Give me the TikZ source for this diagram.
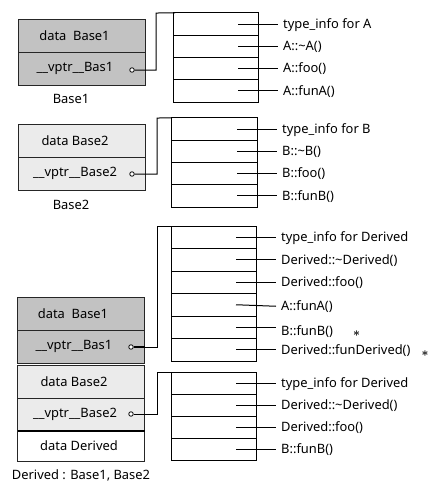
\documentclass[tikz,border=0pt]{standalone}
\usepackage{fontspec}
\setmainfont{Noto Sans}
\usetikzlibrary{positioning}
\begin{document}
\begin{tikzpicture}[x=1pt,y=-1pt,
  every node/.style={font=\fontsize{12.9}{15}\selectfont},
  objcell/.style={draw=black!85, line width=1pt, minimum width=127pt, inner sep=0pt, outer sep=0pt},
  darkcell/.style={objcell, fill=black!24},
  lightcell/.style={objcell, fill=black!8},
  whitecell/.style={objcell, fill=white},
  vrow/.style={draw=black, line width=1pt, inner sep=0pt, outer sep=0pt},
  lab/.style={inner xsep=5pt, inner ysep=0pt, text height=10.5pt, text depth=2pt, anchor=west},
  ptrend/.style={circle, draw=black, line width=0.8pt, fill=white, inner sep=0pt, minimum size=4.5pt},
  conn/.style={draw=black, line width=1pt},
  capt/.style={inner sep=0pt},
  star/.style={inner sep=0pt, anchor=base, font=\fontsize{13}{14}\selectfont\boldmath}
]
\path[use as bounding box, fill=white] (0,0) rectangle (438,488);

% ---------- Base1 object ----------
\node[darkcell, minimum height=33pt] (a1) at (81.5,35.5) {data\ \ Base1\hspace*{14pt}};
\node[darkcell, minimum height=33pt] (a2) at (81.5,68.5) {\_\_vptr\_\_Bas1\hspace*{13pt}};
\node[capt] (a3) at (71,99) {Base1};
\node[ptrend] (p1) at (132,70) {};

% ---------- Base2 object ----------
\node[lightcell, minimum height=33pt] (b1) at (81.5,140.5) {data Base2\hspace*{13pt}};
\node[lightcell, minimum height=33pt] (b2) at (81.5,173.5) {\_\_vptr\_\_Base2\hspace*{13pt}};
\node[capt] (b3) at (71,205) {Base2};
\node[ptrend] (p2) at (132,174) {};

% ---------- Derived object ----------
\node[darkcell, minimum height=33pt] (d1) at (81,313.5) {data\ \ Base1\hspace*{16pt}};
\node[darkcell, minimum height=33pt] (d2) at (81,346.5) {\_\_vptr\_\_Bas1\hspace*{14pt}};
\node[lightcell, minimum height=33pt] (d3) at (81,381.5) {data Base2\hspace*{14pt}};
\node[lightcell, minimum height=33pt] (d4) at (81,414.5) {\_\_vptr\_\_Base2\hspace*{12pt}};
\node[whitecell, minimum height=30pt] (d5) at (81,446) {data Derived\hspace*{4pt}};
\draw[line width=2pt] (d4.south west) -- (d4.south east);
\node[capt] (d6) at (81,475) {Derived : Base1, Base2};
\node[ptrend] (p3) at (131,347) {};
\node[ptrend] (p4) at (131,414) {};

% ---------- vtable of Base1 ----------
\foreach \n/\y in {a/24.1,b/46.4,c/68.6,d/90.9}
  \node[vrow, minimum width=85pt, minimum height=22.25pt] (t1\n) at (215.5,\y) {};
\node[lab, right=20pt of t1a] (l1a) {type\_info for A};
\node[lab, right=20pt of t1b] (l1b) {A::\char`\~A()};
\node[lab, right=20pt of t1c] (l1c) {A::foo()};
\node[lab, right=20pt of t1d] (l1d) {A::funA()};
\foreach \n in {a,b,c,d}
  \draw[conn] ([xshift=-20pt]t1\n.east) -- (l1\n.west);

% ---------- vtable of Base2 ----------
\foreach \n/\y in {a/129.1,b/151.4,c/173.6,d/195.9}
  \node[vrow, minimum width=86pt, minimum height=22.25pt] (t2\n) at (214,\y) {};
\node[lab, right=20pt of t2a] (l2a) {type\_info for B};
\node[lab, right=20pt of t2b] (l2b) {B::\char`\~B()};
\node[lab, right=20pt of t2c] (l2c) {B::foo()};
\node[lab, right=20pt of t2d] (l2d) {B::funB()};
\foreach \n in {a,b,c,d}
  \draw[conn] ([xshift=-20pt]t2\n.east) -- (l2\n.west);

% ---------- vtable of Derived (Base1 part) ----------
\foreach \n/\y in {a/237.25,b/259.75,c/282.25,d/304.75,e/327.25,f/349.75}
  \node[vrow, minimum width=85pt, minimum height=22.5pt] (t3\n) at (213.5,\y) {};
\node[lab, right=20pt of t3a] (l3a) {type\_info for Derived};
\node[lab, right=20pt of t3b] (l3b) {Derived::\char`\~Derived()};
\node[lab, right=20pt of t3c] (l3c) {Derived::foo()};
\node[lab, right=20pt of t3d, yshift=-1.5pt] (l3d) {A::funA()};
\node[lab, right=20pt of t3e, yshift=-4pt] (l3e) {B::funB()};
\node[lab, right=20pt of t3f] (l3f) {Derived::funDerived()};
\foreach \n in {a,b,c,d,f}
  \draw[conn] ([xshift=-20pt]t3\n.east) -- (l3\n.west);
\draw[conn] ([xshift=-20pt]t3e.east) -- (l3e.west |- t3e.east);
\node[star] (s1) at (356.5,336.3) {$\ast$};
\node[star] (s2) at (425,356.3) {$\ast$};

% ---------- vtable of Derived (Base2 part) ----------
\foreach \n/\y in {a/383,b/405,c/427,d/449}
  \node[vrow, minimum width=85pt, minimum height=22pt] (t4\n) at (213.5,\y) {};
\node[lab, right=20pt of t4a] (l4a) {type\_info for Derived};
\node[lab, right=20pt of t4b] (l4b) {Derived::\char`\~Derived()};
\node[lab, right=20pt of t4c] (l4c) {Derived::foo()};
\node[lab, right=20pt of t4d] (l4d) {B::funB()};
\foreach \n in {a,b,c,d}
  \draw[conn] ([xshift=-20pt]t4\n.east) -- (l4\n.west);

% ---------- vptr connectors ----------
\coordinate (k1) at (156,13);
\coordinate (k2) at (157,118);
\coordinate (k3) at (157,226);
\coordinate (k4) at (157,372);
\draw[conn] (p1.east) -| (k1) -- ([xshift=2pt]t1a.north west);
\draw[conn] (p2.east) -| (k2) -- ([xshift=1pt]t2a.north west);
\draw[line width=2pt] (p3.east) -- (p3.east -| d2.east);
\draw[conn] (p3.east) -| (k3) -- (t3a.north west);
\draw[conn] (p4.east) -| (k4) -- (t4a.north west);
\end{tikzpicture}
\end{document}
